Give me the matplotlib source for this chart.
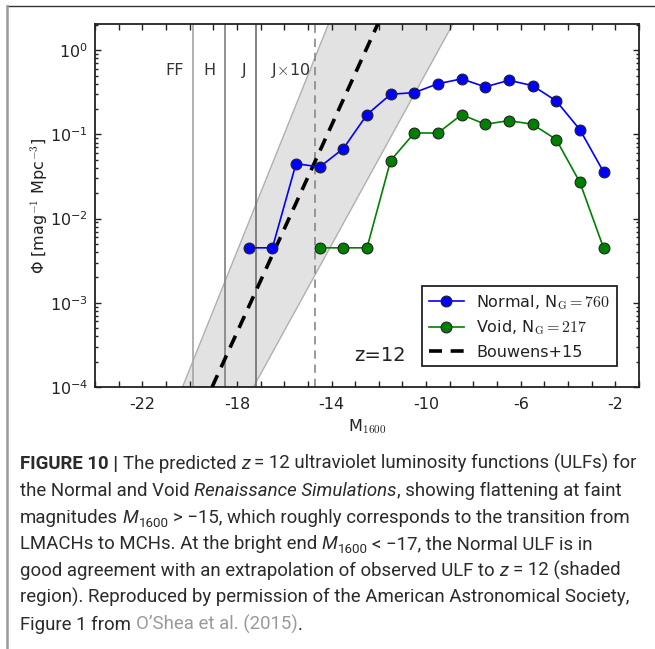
import matplotlib
matplotlib.use('Agg')
import matplotlib.pyplot as plt
from matplotlib.ticker import FixedLocator, MultipleLocator, LogLocator, NullFormatter
from matplotlib.transforms import IdentityTransform
from matplotlib.lines import Line2D

# ---------------- data ----------------
normal_M = [-17.5, -16.5, -15.5, -14.5, -13.5, -12.5, -11.5, -10.5, -9.5, -8.5,
            -7.5, -6.5, -5.5, -4.5, -3.5, -2.5]
normal_phi = [0.0045, 0.0045, 0.045, 0.041, 0.068, 0.172, 0.30, 0.314, 0.40, 0.457,
              0.367, 0.44, 0.38, 0.25, 0.114, 0.036]
void_M = [-14.5, -13.5, -12.5, -11.5, -10.5, -9.5, -8.5, -7.5, -6.5, -5.5, -4.5, -3.5, -2.5]
void_phi = [0.0045, 0.0045, 0.0045, 0.049, 0.104, 0.104, 0.172, 0.132, 0.146, 0.132,
            0.087, 0.027, 0.0045]
bouwens_M = [-19.05, -11.9]
bouwens_logphi = [-4.0, 0.4]
band_M = [-20.3, -13.93, -8.6, -17.3]
band_logphi = [-4.0, 0.45, 0.45, -4.0]
filter_M = [-19.87, -18.49, -17.2]
filter_colors = ['#aaaaaa', '#888888', '#777777']
jx10_M = -14.7
label_M = [-20.65, -19.18, -17.69, -15.75]
label_text = ['FF', 'H', 'J', r'J$\times$10']
x_ticks = [-22, -18, -14, -10, -6, -2]

labels_legend = [r'Normal, N$_{\rm G}=760$', r'Void, N$_{\rm G}=217$', 'Bouwens+15']

plt.rcParams['mathtext.fontset'] = 'cm'
plt.rcParams['axes.unicode_minus'] = False
plt.rcParams['font.family'] = ['DejaVu Sans']

W, H = 655, 649
fig = plt.figure(figsize=(W / 100, H / 100), dpi=100)
fig.patch.set_facecolor('white')

ax_l, ax_r, ax_t, ax_b = 95, 639, 24, 387
ax = fig.add_axes([ax_l / W, (H - ax_b) / H, (ax_r - ax_l) / W, (ax_b - ax_t) / H])
ax.set_yscale('log')
ax.set_xlim(-24, -1)
ax.set_ylim(1e-4, 2.05)

# shaded band
ax.fill(band_M, [10 ** v for v in band_logphi], facecolor='#e2e2e2',
        edgecolor='#b0b0b0', lw=1.0, zorder=1)

# filter lines
for m, c in zip(filter_M, filter_colors):
    ax.axvline(m, color=c, lw=1.3, zorder=2)
ax.axvline(jx10_M, color='#888888', lw=1.2, ls=(0, (5, 3.5)), zorder=2)
for m, t in zip(label_M, label_text):
    ax.text(m, 0.58, t, ha='center', va='center', fontsize=11.5, color='#333333', zorder=3)

# Bouwens extrapolation
l3, = ax.plot(bouwens_M, [10 ** v for v in bouwens_logphi], color='black', lw=2.6,
              ls=(0, (3.6, 2.4)), zorder=4, label=labels_legend[2])

# data
l1, = ax.plot(normal_M, normal_phi, '-o', color='#0000ff', lw=1.2, ms=7.8,
              mfc='#0000ff', mec='#222222', mew=0.8, zorder=6, label=labels_legend[0])
l2, = ax.plot(void_M, void_phi, '-o', color='#008000', lw=1.2, ms=7.8,
              mfc='#008000', mec='#222222', mew=0.8, zorder=5, label=labels_legend[1])

ax.text(-11.95, 10 ** -3.62, 'z=12', ha='center', va='center', fontsize=14, color='#222222')

# ticks
ax.xaxis.set_major_locator(FixedLocator(x_ticks))
ax.xaxis.set_minor_locator(MultipleLocator(1))
ax.yaxis.set_major_locator(LogLocator(base=10, numticks=10))
ax.yaxis.set_minor_locator(LogLocator(base=10, subs=[2, 3, 4, 5, 6, 7, 8, 9], numticks=20))
ax.yaxis.set_minor_formatter(NullFormatter())
ax.tick_params(which='both', direction='in', top=True, right=True, labelsize=11.5,
               colors='#222222', width=1.0)
ax.tick_params(axis='x', which='both', length=4.5, pad=7)
ax.tick_params(axis='y', which='major', length=4.5, pad=5)
ax.tick_params(axis='y', which='minor', length=2.5)
for s in ax.spines.values():
    s.set_linewidth(1.3)
    s.set_color('#222222')

ax.set_xlabel(r'M$_{1600}$', fontsize=11.5, color='#222222')
ax.xaxis.set_label_coords(0.5, -(417 - ax_b) / (ax_b - ax_t))
ax.set_ylabel('\u03a6 [mag$^{-1}$ Mpc$^{-3}$]', fontsize=11.5, color='#222222')
ax.yaxis.set_label_coords(-(ax_l - 50) / (ax_r - ax_l), 0.5)

leg = ax.legend(handles=[l1, l2, l3], loc='lower right',
                bbox_to_anchor=((617 - ax_l) / (ax_r - ax_l), (ax_b - 366) / (ax_b - ax_t)),
                borderaxespad=0, fancybox=False, framealpha=1, edgecolor='#222222',
                fontsize=11.5, handlelength=2.2, handletextpad=0.8, labelspacing=0.45,
                borderpad=0.4, numpoints=1)
leg.get_frame().set_linewidth(1.3)
for t in leg.get_texts():
    t.set_color('#222222')

# page borders
fig.add_artist(Line2D([7 / W, 1], [(H - 6) / H] * 2, transform=fig.transFigure,
                      color='#333333', lw=1.0))
fig.add_artist(Line2D([7 / W] * 2, [0, (H - 6) / H], transform=fig.transFigure,
                      color='#999999', lw=1.8))

# ---------------- caption ----------------
cap_font = 'Roboto'
cap_size = 13.4
cap_color = '#2b2b2b'
link_color = '#9a9a9a'
caption_lines = [
    [('FIGURE 10 |', {'weight': 'bold'}), (' The predicted ', {}), ('z', {'style': 'italic'}),
     (' = 12 ultraviolet luminosity functions (ULFs) for', {})],
    [('the Normal and Void ', {}), ('Renaissance Simulations', {'style': 'italic'}),
     (', showing flattening at faint', {})],
    [('magnitudes ', {}), ('M', {'style': 'italic'}), ('1600', {'sub': True}),
     (' > \u221215, which roughly corresponds to the transition from', {})],
    [('LMACHs to MCHs. At the bright end ', {}), ('M', {'style': 'italic'}), ('1600', {'sub': True}),
     (' < \u221217, the Normal ULF is in', {})],
    [('good agreement with an extrapolation of observed ULF to ', {}), ('z', {'style': 'italic'}),
     (' = 12 (shaded', {})],
    [('region). Reproduced by permission of the American Astronomical Society,', {})],
    [('Figure 1 from ', {}), ('O\u2019Shea et al. (2015)', {'color': link_color}), ('.', {})],
]

fig.canvas.draw()
renderer = fig.canvas.get_renderer()


def text_width(s, **kw):
    t = fig.text(0, 0, s, transform=IdentityTransform(), **kw)
    w = t.get_window_extent(renderer).width
    t.remove()
    return w


base_kw = dict(family=cap_font, fontsize=cap_size, color=cap_color, weight='normal')
x0 = 20
for i, segs in enumerate(caption_lines):
    yb = H - (469 + 26.8 * i)
    x = x0
    for txt, opts in segs:
        kw = dict(base_kw)
        dy = 0
        if opts.get('sub'):
            kw['fontsize'] = cap_size * 0.72
            dy = -4
        for k in ('weight', 'style', 'color'):
            if k in opts:
                kw[k] = opts[k]
        core = txt.strip(' ')
        lead = len(txt) - len(txt.lstrip(' '))
        trail = len(txt) - len(txt.rstrip(' '))
        sp = text_width('a a', **kw) - text_width('aa', **kw)
        x += lead * sp
        fig.text(x, yb + dy, core, transform=IdentityTransform(), va='baseline', ha='left', **kw)
        x += text_width(core, **kw) + trail * sp

fig.savefig('out.png', dpi=100)
